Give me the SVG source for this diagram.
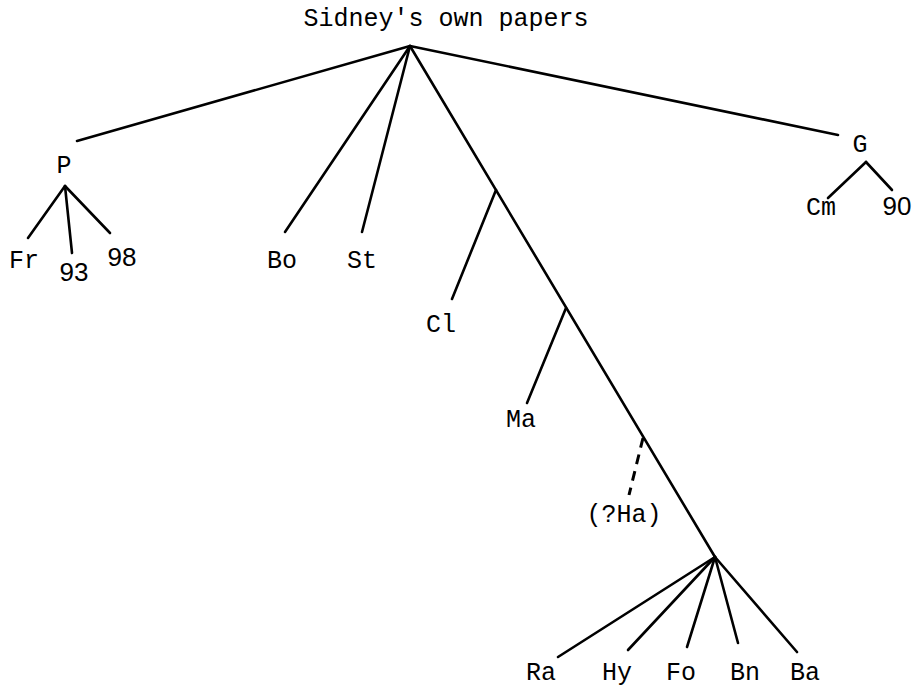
<svg xmlns="http://www.w3.org/2000/svg" width="918" height="690" viewBox="0 0 918 690">
<style>
.m{font-family:"Liberation Mono","DejaVu Sans Mono",monospace;font-size:25px;fill:#000;text-anchor:middle}
.n{font-family:"Liberation Sans","DejaVu Sans",sans-serif;font-size:26px;fill:#000;text-anchor:middle}
.e{stroke:#000;stroke-width:2.6;fill:none;stroke-linecap:round}
.d{stroke:#000;stroke-width:3;fill:none;stroke-dasharray:10 7}
</style>
<rect width="918" height="690" fill="#fff"/>
<g id="connectors">
<line class="e" x1="410" y1="46" x2="77" y2="141"/>
<line class="e" x1="410" y1="46" x2="285" y2="232"/>
<line class="e" x1="410" y1="46" x2="362" y2="232"/>
<line class="e" x1="410" y1="46" x2="715" y2="557"/>
<line class="e" x1="410" y1="46" x2="838" y2="135"/>
<line class="e" x1="496" y1="190" x2="452" y2="299"/>
<line class="e" x1="566" y1="308" x2="527" y2="403"/>
<line class="d" x1="643" y1="438" x2="629" y2="495"/>
<line class="e" x1="65" y1="186" x2="28" y2="238"/>
<line class="e" x1="65" y1="186" x2="72" y2="253"/>
<line class="e" x1="65" y1="186" x2="110" y2="233"/>
<line class="e" x1="866" y1="162" x2="828" y2="198"/>
<line class="e" x1="866" y1="162" x2="892" y2="190" stroke-width="4"/>
<line class="e" x1="715" y1="557" x2="558" y2="657"/>
<line class="e" x1="715" y1="557" x2="628" y2="650"/>
<line class="e" x1="715" y1="557" x2="687" y2="647"/>
<line class="e" x1="715" y1="557" x2="738" y2="643"/>
<line class="e" x1="715" y1="557" x2="797" y2="652"/>
</g>
<g id="root"><text class="m" x="446" y="26">Sidney's own papers</text></g>
<g id="P"><text class="m" x="64" y="173">P</text></g>
<g id="Fr"><text class="m" x="24" y="268">Fr</text></g>
<g id="n93"><text class="n" x="74" y="281">93</text></g>
<g id="n98"><text class="n" x="122" y="266">98</text></g>
<g id="Bo"><text class="m" x="282" y="268">Bo</text></g>
<g id="St"><text class="m" x="362" y="268">St</text></g>
<g id="Cl"><text class="m" x="441" y="332">Cl</text></g>
<g id="Ma"><text class="m" x="521" y="427">Ma</text></g>
<g id="Ha"><text class="m" x="624" y="522">(?Ha)</text></g>
<g id="G"><text class="m" x="860" y="152">G</text></g>
<g id="Cm"><text class="m" x="821" y="215">Cm</text></g>
<g id="n90"><text class="n" x="897" y="215">90</text></g>
<g id="Ra"><text class="m" x="541" y="680">Ra</text></g>
<g id="Hy"><text class="m" x="617" y="680">Hy</text></g>
<g id="Fo"><text class="m" x="681" y="680">Fo</text></g>
<g id="Bn"><text class="m" x="745" y="680">Bn</text></g>
<g id="Ba"><text class="m" x="805" y="680">Ba</text></g>
</svg>
